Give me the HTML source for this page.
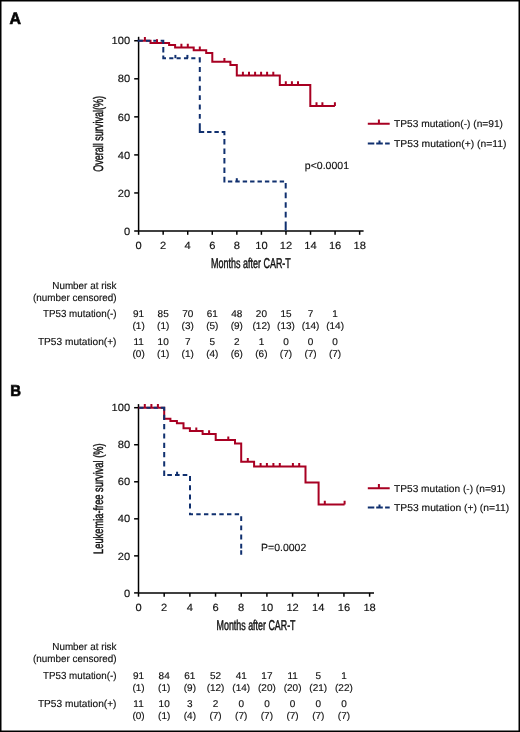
<!DOCTYPE html>
<html><head><meta charset="utf-8"><style>
html,body{margin:0;padding:0;background:#fff;}
body{width:520px;height:732px;overflow:hidden;font-family:"Liberation Sans", sans-serif;}
svg{display:block;} text{stroke:#111;text-rendering:geometricPrecision;} svg{will-change:transform;}
</style></head><body>
<svg width="520" height="732" viewBox="0 0 520 732" font-family='"Liberation Sans", sans-serif' fill="#111" stroke-width="0.15">
<rect x="0" y="0" width="520" height="732" fill="#fff"/>
<g stroke="#000" stroke-width="1.5" fill="none">
<path d="M138.6 36.8V231.0"/>
<path d="M138.6 231.0H363.6"/>
<path d="M134.2 231.00H138.6"/>
<path d="M134.2 192.95H138.6"/>
<path d="M134.2 154.90H138.6"/>
<path d="M134.2 116.85H138.6"/>
<path d="M134.2 78.80H138.6"/>
<path d="M134.2 40.75H138.6"/>
<path d="M138.60 231.0v3.8"/>
<path d="M163.16 231.0v3.8"/>
<path d="M187.72 231.0v3.8"/>
<path d="M212.28 231.0v3.8"/>
<path d="M236.84 231.0v3.8"/>
<path d="M261.40 231.0v3.8"/>
<path d="M285.96 231.0v3.8"/>
<path d="M310.52 231.0v3.8"/>
<path d="M335.08 231.0v3.8"/>
<path d="M359.64 231.0v3.8"/>
</g>
<text transform="translate(130.10 234.65) scale(1.0600 1)" font-size="10.5" text-anchor="end">0</text>
<text transform="translate(130.10 196.60) scale(1.0600 1)" font-size="10.5" text-anchor="end">20</text>
<text transform="translate(130.10 158.55) scale(1.0600 1)" font-size="10.5" text-anchor="end">40</text>
<text transform="translate(130.10 120.50) scale(1.0600 1)" font-size="10.5" text-anchor="end">60</text>
<text transform="translate(130.10 82.45) scale(1.0600 1)" font-size="10.5" text-anchor="end">80</text>
<text transform="translate(130.10 44.40) scale(1.0600 1)" font-size="10.5" text-anchor="end">100</text>
<text transform="translate(138.60 249.00) scale(1.0600 1)" font-size="10.5" text-anchor="middle">0</text>
<text transform="translate(163.16 249.00) scale(1.0600 1)" font-size="10.5" text-anchor="middle">2</text>
<text transform="translate(187.72 249.00) scale(1.0600 1)" font-size="10.5" text-anchor="middle">4</text>
<text transform="translate(212.28 249.00) scale(1.0600 1)" font-size="10.5" text-anchor="middle">6</text>
<text transform="translate(236.84 249.00) scale(1.0600 1)" font-size="10.5" text-anchor="middle">8</text>
<text transform="translate(261.40 249.00) scale(1.0600 1)" font-size="10.5" text-anchor="middle">10</text>
<text transform="translate(285.96 249.00) scale(1.0600 1)" font-size="10.5" text-anchor="middle">12</text>
<text transform="translate(310.52 249.00) scale(1.0600 1)" font-size="10.5" text-anchor="middle">14</text>
<text transform="translate(335.08 249.00) scale(1.0600 1)" font-size="10.5" text-anchor="middle">16</text>
<text transform="translate(359.64 249.00) scale(1.0600 1)" font-size="10.5" text-anchor="middle">18</text>
<text transform="translate(211.10 267.60) scale(0.6321 1)" font-size="14.2" stroke="#111" stroke-width="0.45">Months after CAR-T</text>
<text transform="translate(103.3 171.8) rotate(-90) scale(0.6547 1)" font-size="13.8" stroke="#111" stroke-width="0.45">Overall survival(%)</text>
<path d="M138.6 40.7H150.5V42.9H169.1V44.9H175.1V47.4H193.7V50.3H206.2V53.1H212.3V61.8H230.4V64.9H236.8V75.4H279.8V84.9H310.3V106.0H334.9" stroke="#a80022" stroke-width="2" fill="none"/>
<path d="M137.60 40.7H142.80M145.95 40.7H150.15M153.30 40.7H157.50M160.65 40.7H164.30M163.3 39.70V43.90M163.3 47.00V52.50M163.3 55.60V59.20M162.30 58.2H166.00M169.25 58.2H173.35M176.60 58.2H180.70M183.95 58.2H188.05M191.30 58.2H195.40M198.65 58.2H200.80M199.8 57.20V62.60M199.8 67.07V71.97M199.8 76.44V81.34M199.8 85.81V90.71M199.8 95.18V100.08M199.8 104.55V109.45M199.8 113.92V118.82M199.8 123.29V128.19M199.8 123.20V132.90M198.80 131.9H204.20M207.10 131.9H211.50M214.40 131.9H218.80M221.70 131.9H225.40M224.4 130.90V135.20M224.4 139.12V144.62M224.4 148.54V154.04M224.4 157.96V163.46M224.4 167.38V172.88M224.4 176.80V182.50M223.40 181.5H224.90M227.90 181.5H232.30M235.30 181.5H239.70M242.70 181.5H247.10M250.10 181.5H254.50M257.50 181.5H261.90M264.90 181.5H269.30M272.30 181.5H276.70M279.70 181.5H284.10M285.7 182.90V188.50M285.7 192.55V198.15M285.7 202.20V207.80M285.7 211.85V217.45M285.7 221.50V227.10M285.7 221.70V230.50" stroke="#10306f" stroke-width="2" fill="none"/>
<path d="M175.4 58.2v-3.3" stroke="#10306f" stroke-width="2" fill="none"/>
<path d="M187.4 58.2v-3.3" stroke="#10306f" stroke-width="2" fill="none"/>
<path d="M236.8 181.5v-3.3" stroke="#10306f" stroke-width="2" fill="none"/>
<path d="M144.9 40.7v-3.7M157.0 42.9v-3.7M181.4 47.4v-3.7M187.8 47.4v-3.7M199.8 50.3v-3.7M224.4 61.8v-3.7M242.9 75.4v-3.7M249.0 75.4v-3.7M255.1 75.4v-3.7M261.1 75.4v-3.7M267.1 75.4v-3.7M273.3 75.4v-3.7M285.8 84.9v-3.7M291.9 84.9v-3.7M298.0 84.9v-3.7M316.5 106.0v-3.7M322.4 106.0v-3.7M334.9 106.0v-3.7" stroke="#a80022" stroke-width="2" fill="none"/>
<text transform="translate(304.80 168.50) scale(1.0145 1)" font-size="10.4">p&lt;0.0001</text>
<path d="M367.8 123.8H389.7M378.9 123.8v-4.3" stroke="#a80022" stroke-width="2" fill="none"/>
<path d="M367.8 143.5H374.3M376.2 143.5H382.8M385.1 143.5H389.7M379.5 143.5v-3" stroke="#10306f" stroke-width="2" fill="none"/>
<text transform="translate(394.00 127.30) scale(1.0188 1)" font-size="10.0">TP53 mutation(-) (n=91)</text>
<text transform="translate(394.00 146.80) scale(1.0344 1)" font-size="10.0">TP53 mutation(+) (n=11)</text>
<text transform="translate(116.50 288.60) scale(0.9700 1)" font-size="10.2" text-anchor="end">Number at risk</text>
<text transform="translate(116.50 300.70) scale(0.9700 1)" font-size="10.2" text-anchor="end">(number censored)</text>
<text transform="translate(116.50 316.80) scale(0.9620 1)" font-size="10.2" text-anchor="end">TP53 mutation(-)</text>
<text transform="translate(116.50 344.90) scale(0.9950 1)" font-size="10.2" text-anchor="end">TP53 mutation(+)</text>
<text transform="translate(138.60 316.80) scale(1.0200 1)" font-size="9.8" text-anchor="middle">91</text>
<text transform="translate(163.16 316.80) scale(1.0200 1)" font-size="9.8" text-anchor="middle">85</text>
<text transform="translate(187.72 316.80) scale(1.0200 1)" font-size="9.8" text-anchor="middle">70</text>
<text transform="translate(212.28 316.80) scale(1.0200 1)" font-size="9.8" text-anchor="middle">61</text>
<text transform="translate(236.84 316.80) scale(1.0200 1)" font-size="9.8" text-anchor="middle">48</text>
<text transform="translate(261.40 316.80) scale(1.0200 1)" font-size="9.8" text-anchor="middle">20</text>
<text transform="translate(285.96 316.80) scale(1.0200 1)" font-size="9.8" text-anchor="middle">15</text>
<text transform="translate(310.52 316.80) scale(1.0200 1)" font-size="9.8" text-anchor="middle">7</text>
<text transform="translate(335.08 316.80) scale(1.0200 1)" font-size="9.8" text-anchor="middle">1</text>
<text transform="translate(138.60 328.60) scale(1.0200 1)" font-size="9.8" text-anchor="middle">(1)</text>
<text transform="translate(163.16 328.60) scale(1.0200 1)" font-size="9.8" text-anchor="middle">(1)</text>
<text transform="translate(187.72 328.60) scale(1.0200 1)" font-size="9.8" text-anchor="middle">(3)</text>
<text transform="translate(212.28 328.60) scale(1.0200 1)" font-size="9.8" text-anchor="middle">(5)</text>
<text transform="translate(236.84 328.60) scale(1.0200 1)" font-size="9.8" text-anchor="middle">(9)</text>
<text transform="translate(261.40 328.60) scale(1.0200 1)" font-size="9.8" text-anchor="middle">(12)</text>
<text transform="translate(285.96 328.60) scale(1.0200 1)" font-size="9.8" text-anchor="middle">(13)</text>
<text transform="translate(310.52 328.60) scale(1.0200 1)" font-size="9.8" text-anchor="middle">(14)</text>
<text transform="translate(335.08 328.60) scale(1.0200 1)" font-size="9.8" text-anchor="middle">(14)</text>
<text transform="translate(138.60 344.90) scale(1.0200 1)" font-size="9.8" text-anchor="middle">11</text>
<text transform="translate(163.16 344.90) scale(1.0200 1)" font-size="9.8" text-anchor="middle">10</text>
<text transform="translate(187.72 344.90) scale(1.0200 1)" font-size="9.8" text-anchor="middle">7</text>
<text transform="translate(212.28 344.90) scale(1.0200 1)" font-size="9.8" text-anchor="middle">5</text>
<text transform="translate(236.84 344.90) scale(1.0200 1)" font-size="9.8" text-anchor="middle">2</text>
<text transform="translate(261.40 344.90) scale(1.0200 1)" font-size="9.8" text-anchor="middle">1</text>
<text transform="translate(285.96 344.90) scale(1.0200 1)" font-size="9.8" text-anchor="middle">0</text>
<text transform="translate(310.52 344.90) scale(1.0200 1)" font-size="9.8" text-anchor="middle">0</text>
<text transform="translate(335.08 344.90) scale(1.0200 1)" font-size="9.8" text-anchor="middle">0</text>
<text transform="translate(138.60 357.00) scale(1.0200 1)" font-size="9.8" text-anchor="middle">(0)</text>
<text transform="translate(163.16 357.00) scale(1.0200 1)" font-size="9.8" text-anchor="middle">(1)</text>
<text transform="translate(187.72 357.00) scale(1.0200 1)" font-size="9.8" text-anchor="middle">(1)</text>
<text transform="translate(212.28 357.00) scale(1.0200 1)" font-size="9.8" text-anchor="middle">(4)</text>
<text transform="translate(236.84 357.00) scale(1.0200 1)" font-size="9.8" text-anchor="middle">(6)</text>
<text transform="translate(261.40 357.00) scale(1.0200 1)" font-size="9.8" text-anchor="middle">(6)</text>
<text transform="translate(285.96 357.00) scale(1.0200 1)" font-size="9.8" text-anchor="middle">(7)</text>
<text transform="translate(310.52 357.00) scale(1.0200 1)" font-size="9.8" text-anchor="middle">(7)</text>
<text transform="translate(335.08 357.00) scale(1.0200 1)" font-size="9.8" text-anchor="middle">(7)</text>
<text transform="translate(9.60 23.50) scale(0.9700 1)" font-size="16.4" font-weight="bold" stroke="#000" stroke-width="0.7" fill="#000">A</text>
<g stroke="#000" stroke-width="1.5" fill="none">
<path d="M138.5 404.1V592.9"/>
<path d="M138.5 592.9H374.0"/>
<path d="M134.1 592.90H138.5"/>
<path d="M134.1 555.86H138.5"/>
<path d="M134.1 518.82H138.5"/>
<path d="M134.1 481.78H138.5"/>
<path d="M134.1 444.74H138.5"/>
<path d="M134.1 407.70H138.5"/>
<path d="M138.50 592.9v3.8"/>
<path d="M164.18 592.9v3.8"/>
<path d="M189.86 592.9v3.8"/>
<path d="M215.54 592.9v3.8"/>
<path d="M241.22 592.9v3.8"/>
<path d="M266.90 592.9v3.8"/>
<path d="M292.58 592.9v3.8"/>
<path d="M318.26 592.9v3.8"/>
<path d="M343.94 592.9v3.8"/>
<path d="M369.62 592.9v3.8"/>
</g>
<text transform="translate(130.10 596.55) scale(1.0600 1)" font-size="10.5" text-anchor="end">0</text>
<text transform="translate(130.10 559.51) scale(1.0600 1)" font-size="10.5" text-anchor="end">20</text>
<text transform="translate(130.10 522.47) scale(1.0600 1)" font-size="10.5" text-anchor="end">40</text>
<text transform="translate(130.10 485.43) scale(1.0600 1)" font-size="10.5" text-anchor="end">60</text>
<text transform="translate(130.10 448.39) scale(1.0600 1)" font-size="10.5" text-anchor="end">80</text>
<text transform="translate(130.10 411.35) scale(1.0600 1)" font-size="10.5" text-anchor="end">100</text>
<text transform="translate(138.50 611.00) scale(1.0600 1)" font-size="10.5" text-anchor="middle">0</text>
<text transform="translate(164.18 611.00) scale(1.0600 1)" font-size="10.5" text-anchor="middle">2</text>
<text transform="translate(189.86 611.00) scale(1.0600 1)" font-size="10.5" text-anchor="middle">4</text>
<text transform="translate(215.54 611.00) scale(1.0600 1)" font-size="10.5" text-anchor="middle">6</text>
<text transform="translate(241.22 611.00) scale(1.0600 1)" font-size="10.5" text-anchor="middle">8</text>
<text transform="translate(266.90 611.00) scale(1.0600 1)" font-size="10.5" text-anchor="middle">10</text>
<text transform="translate(292.58 611.00) scale(1.0600 1)" font-size="10.5" text-anchor="middle">12</text>
<text transform="translate(318.26 611.00) scale(1.0600 1)" font-size="10.5" text-anchor="middle">14</text>
<text transform="translate(343.94 611.00) scale(1.0600 1)" font-size="10.5" text-anchor="middle">16</text>
<text transform="translate(369.62 611.00) scale(1.0600 1)" font-size="10.5" text-anchor="middle">18</text>
<text transform="translate(216.60 629.60) scale(0.6257 1)" font-size="14.2" stroke="#111" stroke-width="0.45">Months after CAR-T</text>
<text transform="translate(102.9 553.9) rotate(-90) scale(0.6838 1)" font-size="13.6" stroke="#111" stroke-width="0.45">Leukemia-free survival (%)</text>
<path d="M138.5 407.7H164.2V418.7H170.4V420.9H176.9V423.3H183.5V428.3H189.9V431.1H202.6V433.9H215.7V440.1H235.0V443.6H241.2V461.8H254.1V466.6H305.5V482.5H318.6V504.5H344.6" stroke="#a80022" stroke-width="2" fill="none"/>
<path d="M139.20 407.7H143.50M146.40 407.7H150.70M153.60 407.7H157.90M160.80 407.7H165.20M164.2 406.70V410.70M164.2 414.80V420.00M164.2 424.10V429.30M164.2 433.40V438.60M164.2 442.70V447.90M164.2 452.00V457.20M164.2 461.30V466.50M164.2 470.60V476.00M167.30 475.0H171.90M175.00 475.0H179.60M182.70 475.0H187.30M190.0 476.00V481.00M190.0 485.20V490.20M190.0 494.40V499.40M190.0 503.60V508.60M190.0 512.80V515.20M189.00 514.2H193.00M196.28 514.2H200.68M203.96 514.2H208.36M211.64 514.2H216.04M219.32 514.2H223.72M227.00 514.2H231.40M234.68 514.2H239.08M241.2 516.20V521.00M241.2 525.40V530.20M241.2 534.60V539.40M241.2 543.80V548.60M241.2 553.00V554.70M241.2 550.30V554.70" stroke="#10306f" stroke-width="2" fill="none"/>
<path d="M177.1 475.0v-3.3" stroke="#10306f" stroke-width="2" fill="none"/>
<path d="M144.8 407.7v-3.7M151.4 407.7v-3.7M157.9 407.7v-3.7M196.3 431.1v-3.7M209.1 433.9v-3.7M228.3 440.1v-3.7M247.8 461.8v-3.7M260.6 466.6v-3.7M266.9 466.6v-3.7M273.4 466.6v-3.7M279.8 466.6v-3.7M292.9 466.6v-3.7M299.2 466.6v-3.7M324.8 504.5v-3.7M344.6 504.5v-3.7" stroke="#a80022" stroke-width="2" fill="none"/>
<text transform="translate(261.00 550.50) scale(1.0107 1)" font-size="10.4">P=0.0002</text>
<path d="M367.8 488.3H389.7M378.9 488.3v-4.3" stroke="#a80022" stroke-width="2" fill="none"/>
<path d="M367.8 507.4H374.3M376.2 507.4H382.8M385.1 507.4H389.7M379.5 507.4v-3" stroke="#10306f" stroke-width="2" fill="none"/>
<text transform="translate(394.00 491.50) scale(1.0158 1)" font-size="10.0">TP53 mutation (-) (n=91)</text>
<text transform="translate(394.00 510.60) scale(1.0320 1)" font-size="10.0">TP53 mutation (+) (n=11)</text>
<text transform="translate(116.50 650.40) scale(0.9700 1)" font-size="10.2" text-anchor="end">Number at risk</text>
<text transform="translate(116.50 661.90) scale(0.9700 1)" font-size="10.2" text-anchor="end">(number censored)</text>
<text transform="translate(116.50 678.80) scale(0.9620 1)" font-size="10.2" text-anchor="end">TP53 mutation(-)</text>
<text transform="translate(116.50 706.90) scale(0.9950 1)" font-size="10.2" text-anchor="end">TP53 mutation(+)</text>
<text transform="translate(138.50 678.80) scale(1.0200 1)" font-size="9.8" text-anchor="middle">91</text>
<text transform="translate(164.18 678.80) scale(1.0200 1)" font-size="9.8" text-anchor="middle">84</text>
<text transform="translate(189.86 678.80) scale(1.0200 1)" font-size="9.8" text-anchor="middle">61</text>
<text transform="translate(215.54 678.80) scale(1.0200 1)" font-size="9.8" text-anchor="middle">52</text>
<text transform="translate(241.22 678.80) scale(1.0200 1)" font-size="9.8" text-anchor="middle">41</text>
<text transform="translate(266.90 678.80) scale(1.0200 1)" font-size="9.8" text-anchor="middle">17</text>
<text transform="translate(292.58 678.80) scale(1.0200 1)" font-size="9.8" text-anchor="middle">11</text>
<text transform="translate(318.26 678.80) scale(1.0200 1)" font-size="9.8" text-anchor="middle">5</text>
<text transform="translate(343.94 678.80) scale(1.0200 1)" font-size="9.8" text-anchor="middle">1</text>
<text transform="translate(138.50 690.80) scale(1.0200 1)" font-size="9.8" text-anchor="middle">(1)</text>
<text transform="translate(164.18 690.80) scale(1.0200 1)" font-size="9.8" text-anchor="middle">(1)</text>
<text transform="translate(189.86 690.80) scale(1.0200 1)" font-size="9.8" text-anchor="middle">(9)</text>
<text transform="translate(215.54 690.80) scale(1.0200 1)" font-size="9.8" text-anchor="middle">(12)</text>
<text transform="translate(241.22 690.80) scale(1.0200 1)" font-size="9.8" text-anchor="middle">(14)</text>
<text transform="translate(266.90 690.80) scale(1.0200 1)" font-size="9.8" text-anchor="middle">(20)</text>
<text transform="translate(292.58 690.80) scale(1.0200 1)" font-size="9.8" text-anchor="middle">(20)</text>
<text transform="translate(318.26 690.80) scale(1.0200 1)" font-size="9.8" text-anchor="middle">(21)</text>
<text transform="translate(343.94 690.80) scale(1.0200 1)" font-size="9.8" text-anchor="middle">(22)</text>
<text transform="translate(138.50 706.90) scale(1.0200 1)" font-size="9.8" text-anchor="middle">11</text>
<text transform="translate(164.18 706.90) scale(1.0200 1)" font-size="9.8" text-anchor="middle">10</text>
<text transform="translate(189.86 706.90) scale(1.0200 1)" font-size="9.8" text-anchor="middle">3</text>
<text transform="translate(215.54 706.90) scale(1.0200 1)" font-size="9.8" text-anchor="middle">2</text>
<text transform="translate(241.22 706.90) scale(1.0200 1)" font-size="9.8" text-anchor="middle">0</text>
<text transform="translate(266.90 706.90) scale(1.0200 1)" font-size="9.8" text-anchor="middle">0</text>
<text transform="translate(292.58 706.90) scale(1.0200 1)" font-size="9.8" text-anchor="middle">0</text>
<text transform="translate(318.26 706.90) scale(1.0200 1)" font-size="9.8" text-anchor="middle">0</text>
<text transform="translate(343.94 706.90) scale(1.0200 1)" font-size="9.8" text-anchor="middle">0</text>
<text transform="translate(138.50 719.20) scale(1.0200 1)" font-size="9.8" text-anchor="middle">(0)</text>
<text transform="translate(164.18 719.20) scale(1.0200 1)" font-size="9.8" text-anchor="middle">(1)</text>
<text transform="translate(189.86 719.20) scale(1.0200 1)" font-size="9.8" text-anchor="middle">(4)</text>
<text transform="translate(215.54 719.20) scale(1.0200 1)" font-size="9.8" text-anchor="middle">(7)</text>
<text transform="translate(241.22 719.20) scale(1.0200 1)" font-size="9.8" text-anchor="middle">(7)</text>
<text transform="translate(266.90 719.20) scale(1.0200 1)" font-size="9.8" text-anchor="middle">(7)</text>
<text transform="translate(292.58 719.20) scale(1.0200 1)" font-size="9.8" text-anchor="middle">(7)</text>
<text transform="translate(318.26 719.20) scale(1.0200 1)" font-size="9.8" text-anchor="middle">(7)</text>
<text transform="translate(343.94 719.20) scale(1.0200 1)" font-size="9.8" text-anchor="middle">(7)</text>
<text transform="translate(10.20 395.50) scale(0.9400 1)" font-size="15.8" font-weight="bold" stroke="#000" stroke-width="0.7" fill="#000">B</text>
<rect x="0.75" y="0.75" width="518.5" height="730.5" fill="none" stroke="#000" stroke-width="1.5"/>
</svg>
</body></html>
